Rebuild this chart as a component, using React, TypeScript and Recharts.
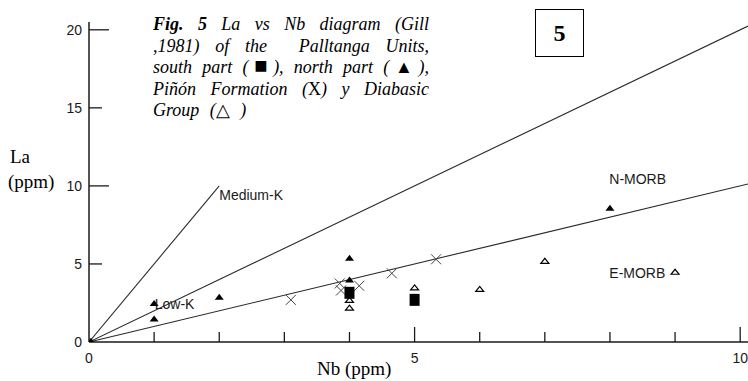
import React from 'react';
import { ScatterChart, Scatter, XAxis, YAxis } from 'recharts';

const xTicks = [0, 1, 2, 3, 4, 5, 6, 7, 8, 9, 10];
const xTickLabels = [0, 5, 10];
const yTicks = [0, 5, 10, 15, 20];

const mediumKLine = [{ x: 0, y: 0 }, { x: 2, y: 10 }];
const upperLine = [{ x: 0, y: 0 }, { x: 10.12, y: 20.24 }];
const lowerLine = [{ x: 0, y: 0 }, { x: 10.12, y: 10.12 }];

const northPart = [
  { x: 0.03, y: 0.08 }, { x: 1, y: 2.5 }, { x: 1, y: 1.5 }, { x: 2, y: 2.9 },
  { x: 4, y: 5.4 }, { x: 4, y: 4.0 }, { x: 8, y: 8.6 },
];
const southPart = [{ x: 4, y: 3.15 }, { x: 5, y: 2.7 }];
const pinonFormation = [
  { x: 3.1, y: 2.7 }, { x: 3.85, y: 3.75 }, { x: 3.87, y: 3.3 }, { x: 4.15, y: 3.6 },
  { x: 4.65, y: 4.4 }, { x: 5.33, y: 5.3 },
];
const diabasicGroup = [
  { x: 4, y: 2.7 }, { x: 4, y: 2.2 }, { x: 5, y: 3.5 }, { x: 6, y: 3.4 },
  { x: 7, y: 5.2 }, { x: 9, y: 4.5 },
];
const fieldLabels = [
  { x: 2.0, y: 9.42, label: 'Medium-K' },
  { x: 1.01, y: 2.44, label: 'Low-K' },
  { x: 7.99, y: 10.45, label: 'N-MORB' },
  { x: 7.99, y: 4.42, label: 'E-MORB' },
];

const SANS = '"Liberation Sans", Arial, sans-serif';
const SERIF = '"Liberation Serif", "Times New Roman", serif';
const INK = '#1a1a1a';

const XTick = (props: any) => {
  const { x, y, payload } = props;
  const v = payload.value;
  const len = v === 0 ? 0 : v % 5 === 0 ? 15 : 10;
  return (
    <g>
      {len > 0 && <line x1={x} x2={x} y1={y} y2={y - len} stroke={INK} strokeWidth={1.3} />}
      {xTickLabels.includes(v) && (
        <text x={x} y={y + 21} textAnchor="middle" fontFamily={SANS} fontSize={14} fill={INK}>
          {v}
        </text>
      )}
    </g>
  );
};

const YTick = (props: any) => {
  const { x, y, payload } = props;
  const v = payload.value;
  const len = v === 0 ? 0 : v % 10 === 0 ? 20 : 13;
  return (
    <g>
      {len > 0 && <line x1={x} x2={x + len} y1={y} y2={y} stroke={INK} strokeWidth={1.3} />}
      <text x={x - 7} y={y + 5} textAnchor="end" fontFamily={SANS} fontSize={14} fill={INK}>
        {v}
      </text>
    </g>
  );
};

const none = () => <g />;

const FilledTriangle = (p: any) => (
  <path d={`M${p.cx - 4.5},${p.cy + 3} L${p.cx + 4.5},${p.cy + 3} L${p.cx},${p.cy - 3} Z`} fill="#000" />
);
const OpenTriangle = (p: any) => (
  <path
    d={`M${p.cx - 4},${p.cy + 2.5} L${p.cx + 4},${p.cy + 2.5} L${p.cx},${p.cy - 2.5} Z`}
    fill="#fff"
    stroke="#000"
    strokeWidth={1.2}
  />
);
const Square = (p: any) => <rect x={p.cx - 5} y={p.cy - 6} width={10} height={12} fill="#000" />;
const Cross = (p: any) => (
  <g stroke="#444" strokeWidth={1}>
    <line x1={p.cx - 5} y1={p.cy - 5} x2={p.cx + 5} y2={p.cy + 5} />
    <line x1={p.cx - 5} y1={p.cy + 5} x2={p.cx + 5} y2={p.cy - 5} />
  </g>
);
const LabelShape = (p: any) => (
  <text x={p.cx} y={p.cy} dominantBaseline="central" fontFamily={SANS} fontSize={14} fill={INK}>
    {p.payload.label}
  </text>
);

const lineStyle = { stroke: '#2a2a2a', strokeWidth: 1.1 };
const sym = { fontStyle: 'normal' as const };

export default function App() {
  return (
    <div style={{ position: 'absolute', left: 0, top: 0, width: 748, height: 381, background: '#fff', overflow: 'hidden' }}>
      <ScatterChart width={748} height={381} margin={{ top: 22, right: 0, bottom: 0, left: 0 }}>
        <XAxis
          type="number"
          dataKey="x"
          domain={[0, 10.12]}
          allowDataOverflow
          ticks={xTicks}
          tick={<XTick />}
          tickLine={false}
          tickSize={0}
          tickMargin={0}
          height={39}
          axisLine={{ stroke: INK, strokeWidth: 1.5 }}
          interval={0}
        />
        <YAxis
          type="number"
          dataKey="y"
          domain={[0, 20.5]}
          allowDataOverflow
          ticks={yTicks}
          tick={<YTick />}
          tickLine={false}
          tickSize={0}
          tickMargin={0}
          width={89}
          axisLine={{ stroke: INK, strokeWidth: 1.5 }}
          interval={0}
        />
        <Scatter data={mediumKLine} line={lineStyle} shape={none} isAnimationActive={false} />
        <Scatter data={upperLine} line={lineStyle} shape={none} isAnimationActive={false} />
        <Scatter data={lowerLine} line={lineStyle} shape={none} isAnimationActive={false} />
        <Scatter data={diabasicGroup} shape={OpenTriangle} isAnimationActive={false} />
        <Scatter data={pinonFormation} shape={Cross} isAnimationActive={false} />
        <Scatter data={southPart} shape={Square} isAnimationActive={false} />
        <Scatter data={northPart} shape={FilledTriangle} isAnimationActive={false} />
        <Scatter data={fieldLabels} shape={LabelShape} isAnimationActive={false} />
      </ScatterChart>

      <div
        style={{
          position: 'absolute', left: 153, top: 14, width: 276, height: 106, overflow: 'hidden',
          fontFamily: SERIF, fontStyle: 'italic', fontSize: 18, lineHeight: '21.5px', color: '#000',
        }}
      >
        <div style={{ textAlign: 'justify', textAlignLast: 'justify' }}>
          <b>Fig. 5</b> La vs Nb diagram (Gill
        </div>
        <div style={{ textAlign: 'justify', textAlignLast: 'justify' }}>,1981) of the&nbsp; Palltanga Units,</div>
        <div style={{ textAlign: 'justify', textAlignLast: 'justify' }}>
          south part (<span style={{ ...sym, fontSize: 22, lineHeight: '10px' }}>■</span>), north part (<span style={sym}>▲</span>),
        </div>
        <div style={{ textAlign: 'justify', textAlignLast: 'justify' }}>
          Piñón Formation (<span style={sym}>X</span>) y Diabasic
        </div>
        <div style={{ wordSpacing: 6 }}>
          Group (<span style={sym}>△</span> )
        </div>
      </div>

      <div
        style={{
          position: 'absolute', left: 535, top: 9, width: 47, height: 46, border: '1.5px solid #000',
          display: 'flex', alignItems: 'center', justifyContent: 'center',
          fontFamily: SERIF, fontWeight: 'bold', fontSize: 24, color: '#000',
        }}
      >
        5
      </div>

      <div style={{ position: 'absolute', left: 10, top: 145, fontFamily: SERIF, fontSize: 19, lineHeight: '24px', color: '#000' }}>La</div>
      <div style={{ position: 'absolute', left: 8, top: 170, fontFamily: SERIF, fontSize: 19, lineHeight: '24px', color: '#000' }}>(ppm)</div>
      <div style={{ position: 'absolute', left: 317, top: 357, fontFamily: SERIF, fontSize: 19, lineHeight: '24px', color: '#000' }}>Nb (ppm)</div>
    </div>
  );
}
